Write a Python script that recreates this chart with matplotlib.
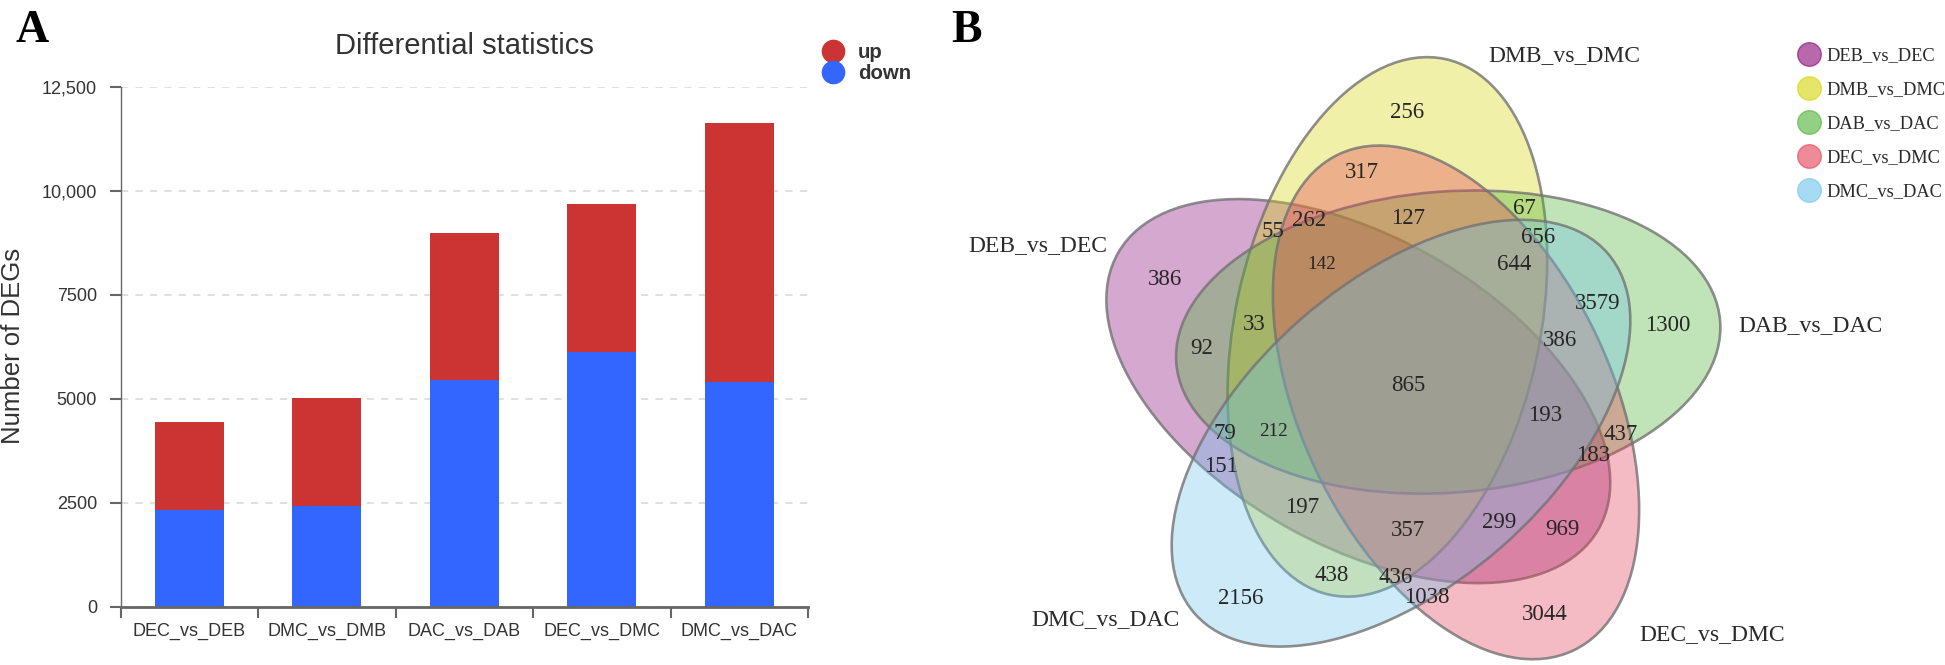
import numpy as np
import matplotlib
matplotlib.use('Agg')
import matplotlib.pyplot as plt
from matplotlib.patches import Ellipse
from matplotlib.lines import Line2D

# ---- panel A: differential statistics ----
categories = ['DEC_vs_DEB', 'DMC_vs_DMB', 'DAC_vs_DAB', 'DEC_vs_DMC', 'DMC_vs_DAC']
down = [2323, 2420, 5458, 6125, 5410]
up = [2114, 2604, 3536, 3571, 6227]
y_ticks = [0, 2500, 5000, 7500, 10000, 12500]
y_tick_labels = ['0', '2500', '5000', '7500', '10,000', '12,500']

# ---- panel B: venn of the five comparisons ----
set_names = ['DEB_vs_DEC', 'DMB_vs_DMC', 'DAB_vs_DAC', 'DEC_vs_DMC', 'DMC_vs_DAC']
set_colors = ['#870676', '#D4D406', '#4BB234', '#E53D56', '#6DC3EB']
region_counts = [256, 317, 127, 55, 262, 142, 386, 33, 92,
                 67, 656, 644, 3579, 1300, 386,
                 865, 79, 212, 151, 197, 438, 436, 2156, 357,
                 193, 437, 183, 299, 969, 1038, 3044]

# layout in pixels of the 1945x665 figure (y downwards), angles counter-clockwise
ell_geom = [(1358.3, 391.1, 277.1, 153.5, 150.0),
            (1387.4, 326.9, 274.0, 152.4, 77.8),
            (1448.2, 342.1, 272.7, 150.6, 4.4),
            (1456.0, 402.4, 274.4, 155.6, 115.3),
            (1401.0, 433.2, 274.0, 151.8, 41.1)]
region_pos = [(1407, 110, 16.5), (1362, 170, 16.5), (1408, 216, 16.5), (1273, 229, 16.5), (1309, 218, 16.5),
              (1322, 263, 13.8), (1165, 277, 16.5), (1254, 322, 16.5), (1202, 346, 16.5),
              (1524, 206, 16.5), (1538, 235, 16.5), (1514, 262, 16.5), (1598, 301, 16.5), (1668, 323, 16.5),
              (1560, 338, 16.5),
              (1408, 383, 16.5), (1225, 431, 16.5), (1273, 430, 13.8), (1221, 464, 16.5), (1302, 505, 16.5),
              (1332, 573, 16.5), (1396, 575, 16.5), (1241, 596, 16.5), (1408, 528, 16.5),
              (1545, 413, 16.5), (1621, 432, 16.5), (1593, 453, 16.5), (1499, 520, 16.5), (1562, 527, 16.5),
              (1427, 595, 16.5), (1545, 612, 16.5)]
name_pos = [(1038, 243), (1564, 53), (1810, 323), (1712, 632), (1105, 617)]

W, H = 1945, 665
fig = plt.figure(figsize=(W / 100, H / 100), dpi=100)
sans = ['Liberation Sans', 'DejaVu Sans']
serif = ['Liberation Serif', 'DejaVu Serif']


def px(x0, y0, x1, y1):
    return [x0 / W, 1 - y1 / H, (x1 - x0) / W, (y1 - y0) / H]


# bar chart
ax = fig.add_axes(px(120.6, 87.3, 808, 606.5))
x = np.arange(len(categories))
ax.bar(x, down, width=0.5, color='#3366FF', zorder=2)
ax.bar(x, up, width=0.5, bottom=down, color='#CC3333', zorder=2)
ax.set_xlim(-0.5, len(categories) - 0.5)
ax.set_ylim(0, 12500)
ax.set_yticks(y_ticks)
ax.set_yticklabels(y_tick_labels, family=sans)
ax.set_xticks(x)
ax.set_xticklabels(categories, family=sans)
ax.set_xticks(np.arange(-0.5, len(categories), 1), minor=True)
ax.tick_params(axis='x', which='major', length=0, pad=12, labelsize=13, labelcolor='#333333')
ax.tick_params(axis='x', which='minor', length=8, width=1.5, color='#666666')
ax.tick_params(axis='y', length=8, width=1.5, color='#666666', pad=9, labelsize=13, labelcolor='#333333')
ax.yaxis.grid(True, linestyle=(0, (4, 4)), color='#dddddd', lw=1.3, zorder=0)
ax.set_axisbelow(True)
for sp in ['top', 'right']:
    ax.spines[sp].set_visible(False)
ax.spines['left'].set_color('#666666')
ax.spines['left'].set_linewidth(1.0)
ax.spines['bottom'].set_color('#666666')
ax.spines['bottom'].set_linewidth(2.0)

fig.text(464 / W, 1 - 53.5 / H, 'Differential statistics', ha='center', va='baseline',
         fontsize=21, color='#333333', family=sans)
fig.text(13.5 / W, 1 - 346 / H, 'Number of DEGs', ha='center', va='center', rotation=90,
         fontsize=18.5, color='#333333', family=sans)

leg_a = [Line2D([], [], marker='o', ls='', markersize=16, color='#CC3333', label='up'),
         Line2D([], [], marker='o', ls='', markersize=16, color='#3366FF', label='down')]
fig.legend(handles=leg_a, loc='upper left', bbox_to_anchor=(823 / W, 1 - 43 / H),
           frameon=False, borderpad=0, borderaxespad=0, handlelength=1.0, handletextpad=0.7,
           labelspacing=0.12, prop={'family': sans, 'weight': 'bold', 'size': 14.7},
           labelcolor='#333333')

# venn diagram
axv = fig.add_axes(px(930, 0, 1945, 665))
axv.set_xlim(930, 1945)
axv.set_ylim(665, 0)
axv.axis('off')
for (cx, cy, a, b, ang), col in zip(ell_geom, set_colors):
    fc = matplotlib.colors.to_rgba(col, 0.35)
    axv.add_patch(Ellipse((cx, cy), 2 * a, 2 * b, angle=-ang, facecolor=fc,
                          edgecolor=(0.45, 0.45, 0.45, 0.8), lw=1.9))
for n, (tx, ty, fs) in zip(region_counts, region_pos):
    axv.text(tx, ty + fs * 0.46, str(n), ha='center', va='baseline', fontsize=fs,
             color='#262626', family=serif)
for name, (tx, ty) in zip(set_names, name_pos):
    axv.text(tx, ty + 8, name, ha='center', va='baseline', fontsize=17, color='#2a2a2a', family=serif)

leg_b = [Line2D([], [], marker='o', ls='', markersize=17, color=c, alpha=0.6, label=nm)
         for nm, c in zip(set_names, set_colors)]
fig.legend(handles=leg_b, loc='upper left', bbox_to_anchor=(1800 / W, 1 - 47 / H),
           frameon=False, borderpad=0, borderaxespad=0, handlelength=1.0, handletextpad=0.45,
           labelspacing=0.93, prop={'family': serif, 'size': 13.2}, labelcolor='#2a2a2a')

fig.text(32 / W, 1 - 42 / H, 'A', ha='center', va='baseline', fontsize=33, weight='bold',
         family=serif)
fig.text(967 / W, 1 - 42 / H, 'B', ha='center', va='baseline', fontsize=33, weight='bold',
         family=serif)

fig.savefig('out.png', dpi=100)
